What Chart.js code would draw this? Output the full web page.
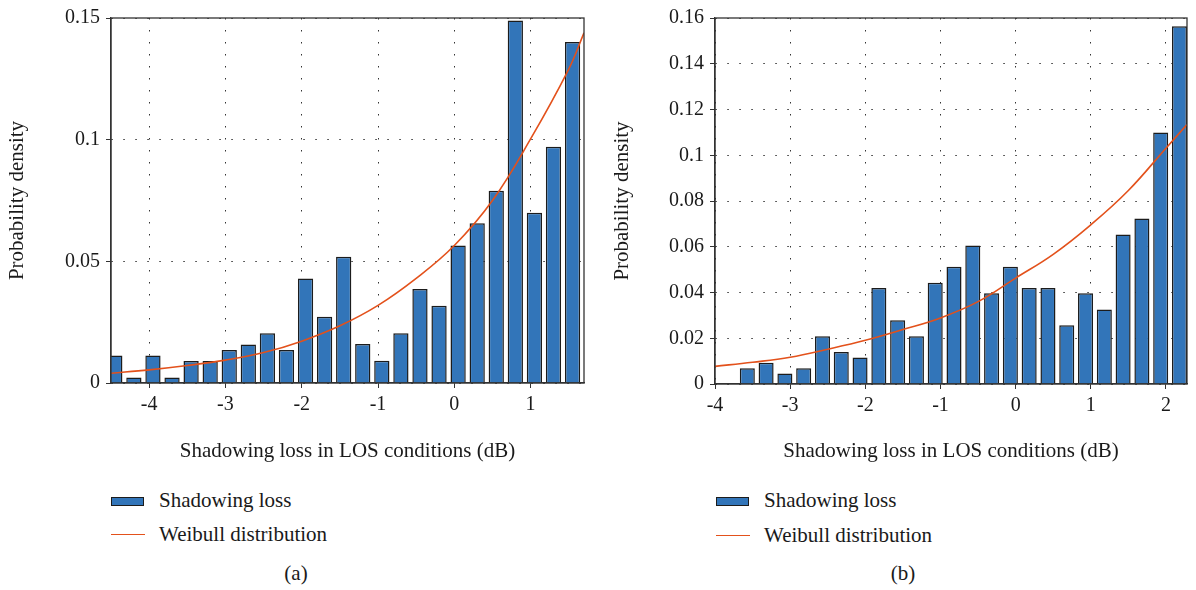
<!DOCTYPE html>
<html>
<head>
<meta charset="utf-8">
<script src="https://cdn.jsdelivr.net/npm/chart.js@4/dist/chart.umd.min.js"></script>
<style>
  body { margin: 0; background: #fff; font-family: "Liberation Serif", "DejaVu Serif", serif; color: #1a1a1a; }
  #wrap { position: relative; width: 1196px; height: 590px; overflow: hidden; }
  .panel { position: absolute; top: 0; width: 598px; height: 590px; }
  .panel canvas { position: absolute; left: 0; top: 0; }
  .leg { position: absolute; font-size: 21px; line-height: 24px; white-space: nowrap; }
  .box { position: absolute; width: 31px; height: 7px; background: #3275b9; border: 1.5px solid #1c1c1c; }
  .line { position: absolute; width: 34px; height: 0; border-top: 1.5px solid #e3511b; }
  .cap { position: absolute; font-size: 21px; width: 100px; text-align: center; }
</style>
</head>
<body>
<div id="wrap">
  <div class="panel" style="left:0">
    <canvas id="chartA" width="598" height="475"></canvas>
    <div class="box" style="left:111px; top:497px"></div>
    <div class="leg" style="left:159px; top:488px">Shadowing loss</div>
    <div class="line" style="left:111px; top:534px"></div>
    <div class="leg" style="left:159px; top:522px">Weibull distribution</div>
    <div class="cap" style="left:246px; top:561px">(a)</div>
  </div>
  <div class="panel" style="left:598px">
    <canvas id="chartB" width="598" height="475"></canvas>
    <div class="box" style="left:118px; top:497px"></div>
    <div class="leg" style="left:166px; top:488px">Shadowing loss</div>
    <div class="line" style="left:118px; top:535px"></div>
    <div class="leg" style="left:166px; top:523px">Weibull distribution</div>
    <div class="cap" style="left:255px; top:561px">(b)</div>
  </div>
</div>
<script>
// (a) histogram bin centres (dB) and densities
var binsA = [-4.45, -4.2, -3.95, -3.7, -3.45, -3.2, -2.95, -2.7, -2.45, -2.2, -1.95, -1.7, -1.45,
             -1.2, -0.95, -0.7, -0.45, -0.2, 0.05, 0.3, 0.55, 0.8, 1.05, 1.3, 1.55];
var densA = [0.0113, 0.0023, 0.0113, 0.0023, 0.0090, 0.0090, 0.0136, 0.0158, 0.0204, 0.0136, 0.0429, 0.0272, 0.0519,
             0.0160, 0.0091, 0.0204, 0.0386, 0.0317, 0.0565, 0.0656, 0.0790, 0.1490, 0.0700, 0.0971, 0.1401];
// (a) fitted Weibull curve
var weibXA = [-4.5, -4, -3.5, -3, -2.5, -2, -1.5, -1, -0.5, 0, 0.5, 1, 1.5, 1.7];
var weibYA = [0.0040, 0.0054, 0.0072, 0.0094, 0.0125, 0.0172, 0.0235, 0.0319, 0.0430, 0.0565, 0.0750, 0.1003, 0.1290, 0.1439];
var xTicksA = [-4, -3, -2, -1, 0, 1];
var yTicksA = [0, 0.05, 0.1, 0.15];

// (b)
var binsB = [-3.57, -3.32, -3.07, -2.82, -2.57, -2.32, -2.07, -1.82, -1.57, -1.32, -1.07, -0.82,
             -0.57, -0.32, -0.07, 0.18, 0.43, 0.68, 0.93, 1.18, 1.43, 1.68, 1.93, 2.18];
var densB = [0.0069, 0.0093, 0.0046, 0.0069, 0.0209, 0.0140, 0.0116, 0.0420, 0.0279, 0.0209, 0.0443, 0.0513,
             0.0606, 0.0397, 0.0513, 0.0420, 0.0420, 0.0257, 0.0397, 0.0326, 0.0654, 0.0723, 0.1099, 0.1564];
var weibXB = [-4, -3.5, -3, -2.5, -2, -1.5, -1, -0.5, 0, 0.5, 1, 1.5, 2, 2.28];
var weibYB = [0.0077, 0.0095, 0.0117, 0.0152, 0.0191, 0.0238, 0.0289, 0.0360, 0.0463, 0.0567, 0.0696, 0.0846, 0.1031, 0.1134];
var xTicksB = [-4, -3, -2, -1, 0, 1, 2];
var yTicksB = [0, 0.02, 0.04, 0.06, 0.08, 0.1, 0.12, 0.14, 0.16];

var serif = "'Liberation Serif', 'DejaVu Serif', serif";

// box round the plot area
var frame = {
  id: 'frame',
  afterDatasetsDraw: function (chart) {
    var a = chart.chartArea, c = chart.ctx;
    c.save();
    c.strokeStyle = '#333';
    c.lineWidth = 1.3;
    c.strokeRect(a.left, a.top, a.right - a.left, a.bottom - a.top);
    c.restore();
  }
};

function pts(xs, ys) {
  return xs.map(function (x, i) { return { x: x, y: ys[i] }; });
}

function makeChart(id, s) {
  return new Chart(document.getElementById(id), {
    data: {
      datasets: [
        {
          type: 'line', label: 'Weibull distribution',
          data: pts(s.wx, s.wy),
          borderColor: '#e3511b', borderWidth: 1.6, tension: 0.4,
          pointRadius: 0, fill: false, order: 0
        },
        {
          type: 'bar', label: 'Shadowing loss',
          data: pts(s.bins, s.dens),
          backgroundColor: '#3275b9', borderColor: '#1c1c1c', borderWidth: 1.5,
          barPercentage: 0.8, categoryPercentage: 1, order: 1
        }
      ]
    },
    options: {
      responsive: false,
      animation: false,
      layout: { padding: { left: 0, right: s.padRight, top: s.padTop, bottom: 0 } },
      plugins: { legend: { display: false }, tooltip: { enabled: false } },
      scales: {
        x: {
          type: 'linear', min: s.xmin, max: s.xmax, offset: false,
          afterBuildTicks: function (sc) { sc.ticks = s.xTicks.map(function (v) { return { value: v }; }); },
          afterFit: function (sc) { sc.height = s.xHeight; },
          grid: { offset: false, color: '#333', lineWidth: 1, tickLength: 5, tickColor: '#333', tickBorderDash: [] },
          border: { color: '#333', width: 1.3, dash: [1.5, 10.5] },
          ticks: { color: '#1a1a1a', padding: 5, font: { family: serif, size: 20 }, maxRotation: 0 },
          title: { display: true, text: 'Shadowing loss in LOS conditions (dB)', color: '#1a1a1a',
                   font: { family: serif, size: 21 }, padding: { top: 0, bottom: 11 } }
        },
        y: {
          min: 0, max: s.ymax,
          afterBuildTicks: function (sc) { sc.ticks = s.yTicks.map(function (v) { return { value: v }; }); },
          afterFit: function (sc) { sc.width = s.yWidth; },
          grid: { color: '#333', lineWidth: 1, tickLength: 5, tickColor: '#333', tickBorderDash: [] },
          border: { color: '#333', width: 1.3, dash: [1.5, 10.5] },
          ticks: { color: '#1a1a1a', padding: 6, font: { family: serif, size: 20 },
                   callback: function (v) { return String(+v.toFixed(2)); } },
          title: { display: true, text: 'Probability density', color: '#1a1a1a',
                   font: { family: serif, size: 21 }, padding: { top: s.yTitlePad, bottom: 0 } }
        }
      }
    },
    plugins: [frame]
  });
}

makeChart('chartA', {
  bins: binsA, dens: densA, wx: weibXA, wy: weibYA, xTicks: xTicksA, yTicks: yTicksA,
  xmin: -4.5, xmax: 1.7, ymax: 0.15,
  padRight: 14, padTop: 9, xHeight: 92, yWidth: 111, yTitlePad: 5
});
makeChart('chartB', {
  bins: binsB, dens: densB, wx: weibXB, wy: weibYB, xTicks: xTicksB, yTicks: yTicksB,
  xmin: -4, xmax: 2.28, ymax: 0.16,
  padRight: 9, padTop: 11, xHeight: 91, yWidth: 117, yTitlePad: 12
});
</script>
</body>
</html>
